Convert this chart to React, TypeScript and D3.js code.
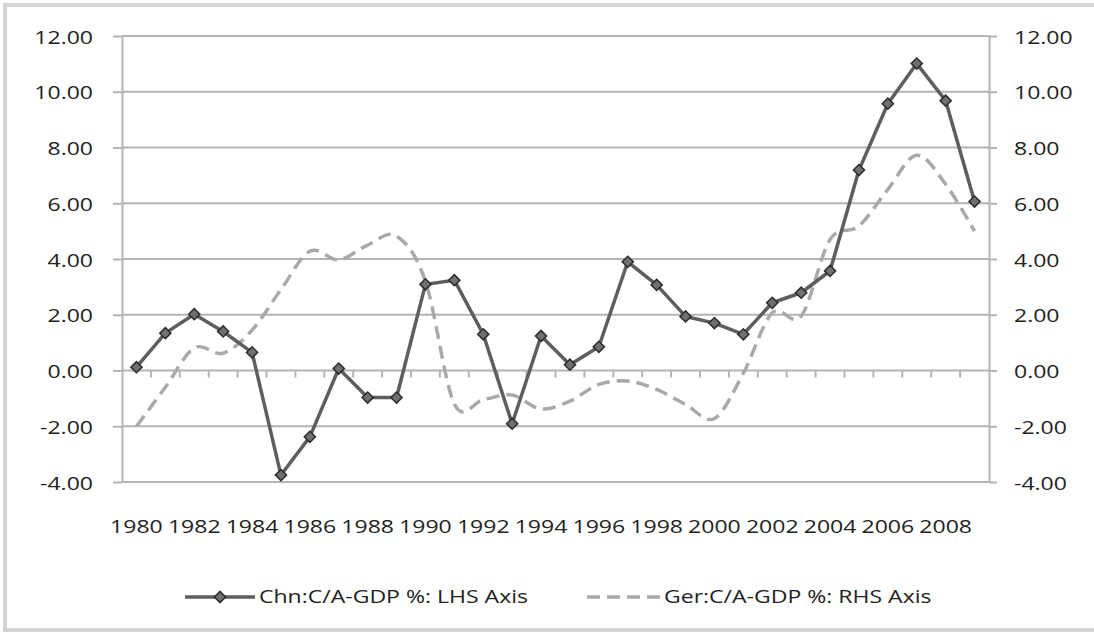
import * as d3 from "d3";
import { useEffect, useRef } from "react";

const years = [
  "1980", "1981", "1982", "1983", "1984", "1985", "1986", "1987", "1988", "1989",
  "1990", "1991", "1992", "1993", "1994", "1995", "1996", "1997", "1998", "1999",
  "2000", "2001", "2002", "2003", "2004", "2005", "2006", "2007", "2008", "2009",
];
const chnValues = [
  0.12, 1.34, 2.02, 1.4, 0.65, -3.75, -2.38, 0.07, -0.97, -0.97,
  3.09, 3.24, 1.3, -1.91, 1.24, 0.21, 0.85, 3.9, 3.07, 1.94,
  1.7, 1.3, 2.43, 2.79, 3.57, 7.19, 9.57, 11.01, 9.68, 6.06,
];
const gerValues = [
  -2.0, -0.6, 0.81, 0.62, 1.45, 2.9, 4.28, 3.97, 4.5, 4.82,
  3.2, -1.2, -1.04, -0.88, -1.38, -1.1, -0.5, -0.38, -0.68, -1.22,
  -1.72, -0.1, 2.07, 1.95, 4.7, 5.18, 6.5, 7.72, 6.68, 5.0,
];
const yTicks = [-4, -2, 0, 2, 4, 6, 8, 10, 12];
const yearLabels = [
  "1980", "1982", "1984", "1986", "1988", "1990", "1992", "1994",
  "1996", "1998", "2000", "2002", "2004", "2006", "2008",
];
const seriesNames = ["Chn:C/A-GDP %: LHS Axis", "Ger:C/A-GDP %: RHS Axis"];

export default function App() {
  const ref = useRef<SVGSVGElement | null>(null);

  useEffect(() => {
    if (!ref.current) return;
    const plot = { left: 122, right: 989, top: 36, bottom: 482 };
    const sx = 1.28; // labels look horizontally stretched
    const font = "'Open Sans', sans-serif";
    const fontSize = "18px";
    const textColor = "#222";
    const grid = "#b4b4b4";

    const svg = d3.select(ref.current);
    svg.selectAll("*").remove();

    svg
      .append("rect")
      .attr("x", 5)
      .attr("y", 5)
      .attr("width", 1100)
      .attr("height", 625)
      .attr("fill", "#fff")
      .attr("stroke", "#d4d4d4")
      .attr("stroke-width", 4);

    const x = d3.scaleBand().domain(years).range([plot.left, plot.right]);
    const cx = (yr: string) => (x(yr) ?? 0) + x.bandwidth() / 2;
    const yL = d3.scaleLinear().domain([-4, 12]).range([plot.bottom, plot.top]);
    const yR = d3.scaleLinear().domain([-4, 12]).range([plot.bottom, plot.top]);

    // gridlines
    svg
      .append("g")
      .selectAll("line")
      .data(yTicks)
      .join("line")
      .attr("x1", plot.left)
      .attr("x2", plot.right)
      .attr("y1", (d) => yL(d))
      .attr("y2", (d) => yL(d))
      .attr("stroke", grid)
      .attr("stroke-width", 2);

    const fmt = (v: number) => v.toFixed(2);

    const left = svg
      .append("g")
      .attr("transform", `translate(${plot.left},0)`)
      .call(d3.axisLeft(yL).tickValues(yTicks).tickFormat((v) => fmt(v as number)).tickSize(9).tickSizeOuter(0));
    left
      .selectAll("text")
      .attr("x", -29 / sx)
      .attr("transform", `scale(${sx},1)`)
      .attr("dy", "0.4em");

    const right = svg
      .append("g")
      .attr("transform", `translate(${plot.right},0)`)
      .call(d3.axisRight(yR).tickValues(yTicks).tickFormat((v) => fmt(v as number)).tickSize(8).tickSizeOuter(0));
    right
      .selectAll("text")
      .attr("x", 25 / sx)
      .attr("transform", `scale(${sx},1)`)
      .attr("dy", "0.4em");

    [left, right].forEach((ax) => {
      ax.selectAll(".domain, .tick line").attr("stroke", grid).attr("stroke-width", 2);
      ax.selectAll("text").style("font-family", font).style("font-size", fontSize).attr("fill", textColor);
    });

    // category axis at zero with ticks between categories
    const y0 = yL(0);
    const bounds = years.map((yr) => x(yr) ?? 0).slice(1);
    svg
      .append("g")
      .selectAll("line")
      .data(bounds)
      .join("line")
      .attr("x1", (d) => d)
      .attr("x2", (d) => d)
      .attr("y1", y0)
      .attr("y2", y0 + 7)
      .attr("stroke", grid)
      .attr("stroke-width", 2);

    svg
      .append("g")
      .selectAll("text")
      .data(yearLabels)
      .join("text")
      .attr("x", (d) => cx(d) / sx)
      .attr("y", 533)
      .attr("transform", `scale(${sx},1)`)
      .attr("text-anchor", "middle")
      .style("font-family", font)
      .style("font-size", fontSize)
      .attr("fill", textColor)
      .text((d) => d);

    // Germany, smoothed dashed line (RHS)
    const gerLine = d3
      .line<number>()
      .x((_d, i) => cx(years[i]))
      .y((d) => yR(d))
      .curve(d3.curveCatmullRom.alpha(0));
    svg
      .append("path")
      .attr("d", gerLine(gerValues))
      .attr("fill", "none")
      .attr("stroke", "#a9a9a9")
      .attr("stroke-width", 3.5)
      .attr("stroke-dasharray", "13,7");

    // China, solid line with diamonds (LHS)
    const chnLine = d3
      .line<number>()
      .x((_d, i) => cx(years[i]))
      .y((d) => yL(d));
    svg
      .append("path")
      .attr("d", chnLine(chnValues))
      .attr("fill", "none")
      .attr("stroke", "#5e5e5e")
      .attr("stroke-width", 3.5)
      .attr("stroke-linejoin", "round");

    const diamond = d3.symbol(d3.symbolSquare, 62)();
    svg
      .append("g")
      .selectAll("path")
      .data(chnValues)
      .join("path")
      .attr("d", diamond)
      .attr("transform", (d, i) => `translate(${cx(years[i])},${yL(d)}) rotate(45)`)
      .attr("fill", "#707070")
      .attr("stroke", "#2b2b2b")
      .attr("stroke-width", 1.5);

    // legend
    const ly = 597;
    const lg = svg.append("g");
    lg.append("line")
      .attr("x1", 185)
      .attr("x2", 255)
      .attr("y1", ly)
      .attr("y2", ly)
      .attr("stroke", "#5e5e5e")
      .attr("stroke-width", 3.5);
    lg.append("path")
      .attr("d", diamond)
      .attr("transform", `translate(220,${ly}) rotate(45)`)
      .attr("fill", "#707070")
      .attr("stroke", "#2b2b2b")
      .attr("stroke-width", 1.5);
    lg.append("line")
      .attr("x1", 587)
      .attr("x2", 660)
      .attr("y1", ly)
      .attr("y2", ly)
      .attr("stroke", "#a9a9a9")
      .attr("stroke-width", 3.5)
      .attr("stroke-dasharray", "13,7");
    lg.selectAll("text")
      .data(seriesNames)
      .join("text")
      .attr("x", (_d, i) => (i === 0 ? 259 : 664) / sx)
      .attr("y", ly)
      .attr("dy", "0.36em")
      .attr("transform", `scale(${sx},1)`)
      .style("font-family", font)
      .style("font-size", fontSize)
      .attr("fill", textColor)
      .text((d) => d);
  }, []);

  return (
    <svg
      ref={ref}
      width={1094}
      height={633}
      style={{ position: "absolute", left: 0, top: 0, background: "#fff" }}
    />
  );
}
